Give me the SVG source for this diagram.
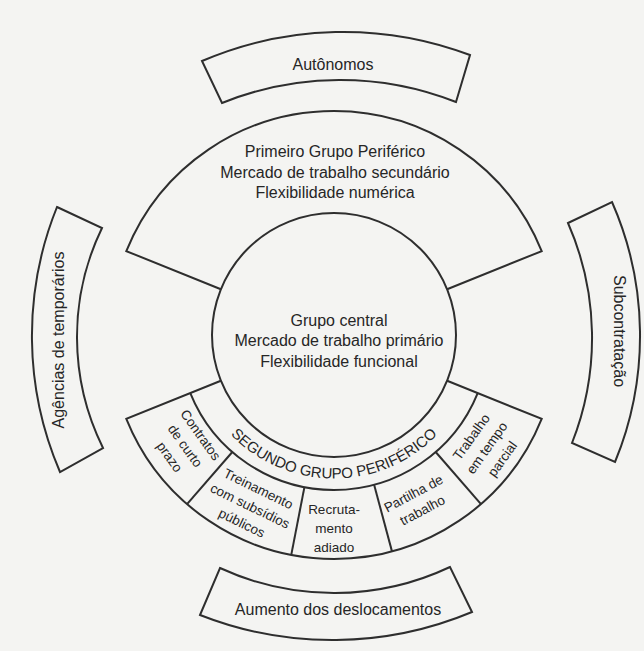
<svg xmlns="http://www.w3.org/2000/svg" width="644" height="651" viewBox="0 0 644 651">
  <style>
    .ln { fill: none; stroke: #2e2e2e; stroke-width: 2; stroke-linejoin: miter; }
    .t { font-family: "Liberation Sans", Arial, sans-serif; fill: #262626; text-anchor: middle; }
    .big { font-size: 16px; }
    .seg { font-size: 13.5px; }
    .cap { font-size: 15px; }
  </style>
  <defs>
    <!-- baseline for the curved band title, centred at (334,335) -->
    <path id="segArc" d="M195.39,372.14 A143.5,143.5 0 0 0 472.61,372.14"/>
  </defs>

  <rect width="644" height="651" fill="#f4f4f2"/>

  <!-- outer bands -->
  <g id="node-autonomos">
    <path class="ln" d="M202,61 A358,358 0 0 1 470,55 L456,102 A315,315 0 0 0 222,103 Z"/>
    <text class="t big" x="333" y="70">Autônomos</text>
  </g>

  <g id="node-agencias">
    <path class="ln" d="M57,207 L102,228 A250,250 0 0 0 103,448 L60,472 A344,344 0 0 1 57,207 Z"/>
    <text class="t big" transform="translate(63.5,340) rotate(-90)">Agências de temporários</text>
  </g>

  <g id="node-subcontratacao">
    <path class="ln" d="M568,223 L612,202 A332,332 0 0 1 615,462 L572,443 A286,286 0 0 0 568,223 Z"/>
    <text class="t big" transform="translate(613.5,331) rotate(90)">Subcontratação</text>
  </g>

  <g id="node-aumento">
    <path class="ln" d="M220,568 A272,272 0 0 0 450,567 L472,612 A362,362 0 0 1 200,615 Z"/>
    <text class="t big" x="338" y="615">Aumento dos deslocamentos</text>
  </g>

  <!-- first peripheral group: upper ring sector -->
  <g id="node-primeiro">
    <path class="ln" d="M220.88,289.30 L126.31,251.09 A224,224 0 0 1 541.69,251.09 L447.12,289.30"/>
    <text class="t big" x="335" y="157">Primeiro Grupo Periférico</text>
    <text class="t big" x="335" y="177.5">Mercado de trabalho secundário</text>
    <text class="t big" x="335" y="198">Flexibilidade numérica</text>
  </g>

  <!-- core group -->
  <g id="node-central">
    <circle class="ln" cx="334" cy="335" r="122"/>
    <text class="t big" x="339" y="325.5">Grupo central</text>
    <text class="t big" x="339" y="346">Mercado de trabalho primário</text>
    <text class="t big" x="339" y="366.5">Flexibilidade funcional</text>
  </g>

  <!-- second peripheral group: lower ring sector with title band -->
  <g id="node-segundo">
    <path class="ln" d="M447.12,380.70 L541.69,418.91 A224,224 0 0 1 126.31,418.91 L220.88,380.70"/>
    <path class="ln" d="M477.71,393.06 A155,155 0 0 1 190.29,393.06"/>
    <text class="t cap"><textPath href="#segArc" startOffset="50%">SEGUNDO GRUPO PERIFÉRICO</textPath></text>
  </g>

  <g id="connectors">
    <line class="ln" x1="232.31" y1="451.98" x2="187.04" y2="504.06"/>
    <line class="ln" x1="304.42" y1="487.15" x2="291.26" y2="554.89"/>
    <line class="ln" x1="374.12" y1="484.72" x2="391.98" y2="551.37"/>
    <line class="ln" x1="435.69" y1="451.98" x2="480.96" y2="504.05"/>
  </g>

  <g id="node-contratos" transform="translate(185,446) rotate(54.5)">
    <text class="t seg" y="-14.5">Contratos</text>
    <text class="t seg" y="4.5">de curto</text>
    <text class="t seg" y="23.5">prazo</text>
  </g>

  <g id="node-treinamento" transform="translate(250,506) rotate(26)">
    <text class="t seg" y="-14.5">Treinamento</text>
    <text class="t seg" y="4.5">com subsídios</text>
    <text class="t seg" y="23.5">públicos</text>
  </g>

  <g id="node-recrutamento" transform="translate(334,528)">
    <text class="t seg" y="-14.5">Recruta-</text>
    <text class="t seg" y="4.5">mento</text>
    <text class="t seg" y="23.5">adiado</text>
  </g>

  <g id="node-partilha" transform="translate(418,502) rotate(-28)">
    <text class="t seg" y="-5">Partilha de</text>
    <text class="t seg" y="14">trabalho</text>
  </g>

  <g id="node-tempo-parcial" transform="translate(487,448) rotate(-54.5)">
    <text class="t seg" y="-14.5">Trabalho</text>
    <text class="t seg" y="4.5">em tempo</text>
    <text class="t seg" y="23.5">parcial</text>
  </g>
</svg>
